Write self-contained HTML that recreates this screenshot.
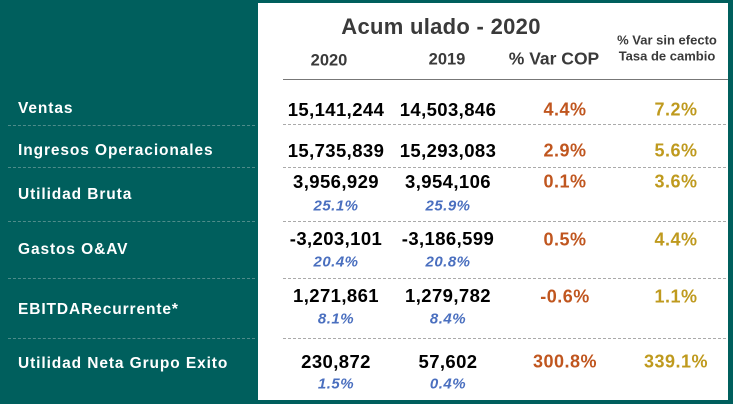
<!DOCTYPE html><html><head><meta charset="utf-8"><style>
body{margin:0;width:733px;height:404px;background:#005f5d;position:relative;overflow:hidden;font-family:"Liberation Sans",sans-serif;}
.p{position:absolute;left:258px;top:3px;width:470px;height:397px;background:#fff;}
.t{position:absolute;white-space:nowrap;font-weight:bold;transform:translate(-50%,-50%);}
.l{position:absolute;white-space:nowrap;font-weight:bold;color:#fff;font-size:15.5px;left:18px;transform:translateY(-50%);letter-spacing:0.9px}
.n{font-size:18.5px;color:#000;letter-spacing:0.4px}
.b{font-size:15px;color:#4a6fbf;font-style:italic;letter-spacing:0.5px}
.o{font-size:18px;color:#c0561f;letter-spacing:0.5px}
.g{font-size:18px;color:#bf9a1e;letter-spacing:0.5px}
.h{color:#3a3a3a}
.dl{position:absolute;left:8px;width:247px;border-top:1px dashed #4e8c8a}
.dr{position:absolute;left:283px;width:443px;border-top:1px dashed #aaa}
</style></head><body>
<div class="p"></div>
<div style="position:absolute;left:283px;top:79px;width:445px;border-top:1px solid #777"></div>
<div class="t h" style="left:441px;top:27px;font-size:22px;letter-spacing:0.3px">Acum ulado - 2020</div>
<div class="t h" style="left:329px;top:61px;font-size:16.5px">2020</div>
<div class="t h" style="left:447px;top:60px;font-size:16.5px">2019</div>
<div class="t h" style="left:554px;top:59px;font-size:17.5px">% Var COP</div>
<div class="t h" style="left:667px;top:40px;font-size:13px">% Var sin efecto</div>
<div class="t h" style="left:667px;top:56px;font-size:13px">Tasa de cambio</div>

<div class="l" style="top:109px">Ventas</div>
<div class="l" style="top:151px">Ingresos Operacionales</div>
<div class="l" style="top:195px">Utilidad Bruta</div>
<div class="l" style="top:250px">Gastos O&amp;AV</div>
<div class="l" style="top:310px">EBITDARecurrente*</div>
<div class="l" style="top:364px">Utilidad Neta Grupo Exito</div>

<div class="dl" style="top:125px"></div><div class="dl" style="top:167px"></div><div class="dl" style="top:221px"></div><div class="dl" style="top:278px"></div><div class="dl" style="top:338px"></div>
<div class="dr" style="top:124px"></div><div class="dr" style="top:167px"></div><div class="dr" style="top:221px"></div><div class="dr" style="top:278px"></div><div class="dr" style="top:338px"></div>

<div class="t n" style="left:336px;top:110px">15,141,244</div>
<div class="t n" style="left:448px;top:110px">14,503,846</div>
<div class="t o" style="left:565px;top:110px">4.4%</div>
<div class="t g" style="left:676px;top:110px">7.2%</div>

<div class="t n" style="left:336px;top:151px">15,735,839</div>
<div class="t n" style="left:448px;top:151px">15,293,083</div>
<div class="t o" style="left:565px;top:151px">2.9%</div>
<div class="t g" style="left:676px;top:151px">5.6%</div>

<div class="t n" style="left:336px;top:182px">3,956,929</div>
<div class="t b" style="left:336px;top:206px">25.1%</div>
<div class="t n" style="left:448px;top:182px">3,954,106</div>
<div class="t b" style="left:448px;top:206px">25.9%</div>
<div class="t o" style="left:565px;top:182px">0.1%</div>
<div class="t g" style="left:676px;top:182px">3.6%</div>

<div class="t n" style="left:336px;top:239px">-3,203,101</div>
<div class="t b" style="left:336px;top:262px">20.4%</div>
<div class="t n" style="left:448px;top:239px">-3,186,599</div>
<div class="t b" style="left:448px;top:262px">20.8%</div>
<div class="t o" style="left:565px;top:240px">0.5%</div>
<div class="t g" style="left:676px;top:240px">4.4%</div>

<div class="t n" style="left:336px;top:296px">1,271,861</div>
<div class="t b" style="left:336px;top:319px">8.1%</div>
<div class="t n" style="left:448px;top:296px">1,279,782</div>
<div class="t b" style="left:448px;top:319px">8.4%</div>
<div class="t o" style="left:565px;top:297px">-0.6%</div>
<div class="t g" style="left:676px;top:297px">1.1%</div>

<div class="t n" style="left:336px;top:362px">230,872</div>
<div class="t b" style="left:336px;top:384px">1.5%</div>
<div class="t n" style="left:448px;top:362px">57,602</div>
<div class="t b" style="left:448px;top:384px">0.4%</div>
<div class="t o" style="left:565px;top:362px">300.8%</div>
<div class="t g" style="left:676px;top:362px">339.1%</div>
</body></html>
